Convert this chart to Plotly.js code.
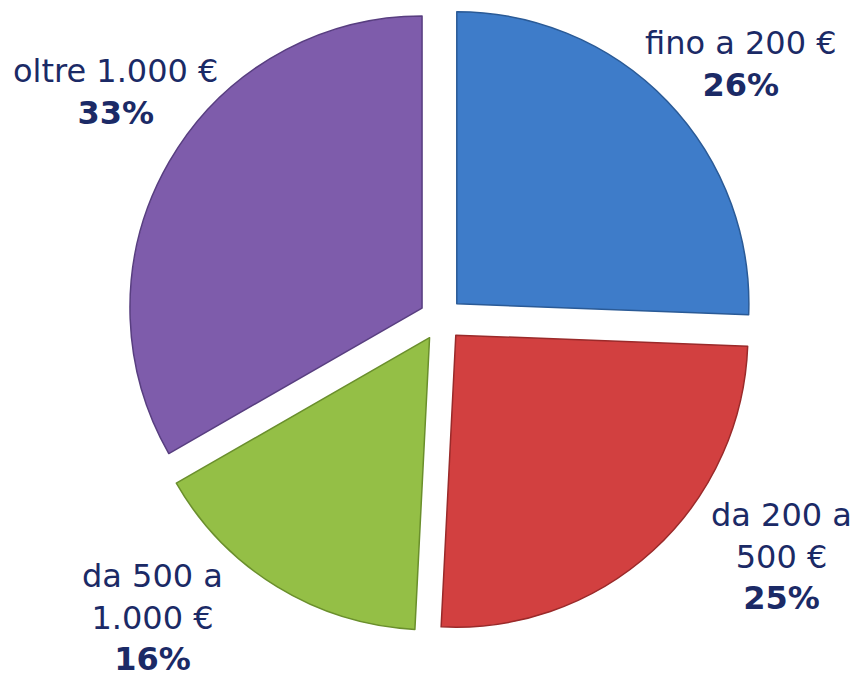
<!DOCTYPE html>
<html>
<head>
<meta charset="utf-8">
<script src="https://cdn.plot.ly/plotly-3.0.1.min.js"></script>
<style>html,body{margin:0;padding:0;background:#fff;}#chart{width:856px;height:678px;}</style>
</head>
<body>
<div id="chart"></div>
<script>
// Data
var categories = ["fino a 200 €", "da 200 a<br>500 €", "da 500 a<br>1.000 €", "oltre 1.000 €"];
var shares = [25.6, 25.2, 15.9, 33.3];
var shareLabels = ["26%", "25%", "16%", "33%"];   // as printed on the chart
var sliceColors = ["#3E7CC9", "#D24040", "#94BF46", "#7E5CAB"];
var edgeColors = ["#2A5A96", "#9A2A2A", "#6A8F2C", "#583E80"];

// Label placement (paper coordinates), styling only
var labelX = [0.8662, 0.9124, 0.1787, 0.1355];
var labelY = [0.9056, 0.1785, 0.0885, 0.8643];

var annotations = categories.map(function (c, i) {
  return {
    xref: "paper", yref: "paper",
    x: labelX[i], y: labelY[i],
    xanchor: "center", yanchor: "middle",
    showarrow: false,
    align: "center",
    text: c + "<br><b>" + shareLabels[i] + "</b>",
    font: {family: "DejaVu Sans, Verdana, sans-serif", size: 32, color: "#1B2A66"}
  };
});

var trace = {
  type: "pie",
  values: shares,
  labels: categories,
  sort: false,
  direction: "clockwise",
  rotation: 0,
  pull: [0.075, 0.075, 0.075, 0.075],
  marker: {colors: sliceColors, line: {color: edgeColors, width: 1.5}},
  textinfo: "none",
  hoverinfo: "label+percent",
  showlegend: false,
  domain: {x: [0.1484, 0.8820], y: [0.0664, 0.9926]}
};

var layout = {
  width: 856, height: 678,
  margin: {l: 0, r: 0, t: 0, b: 0},
  paper_bgcolor: "#ffffff",
  plot_bgcolor: "#ffffff",
  showlegend: false,
  annotations: annotations
};

Plotly.newPlot("chart", [trace], layout, {displayModeBar: false, staticPlot: true});
</script>
</body>
</html>
